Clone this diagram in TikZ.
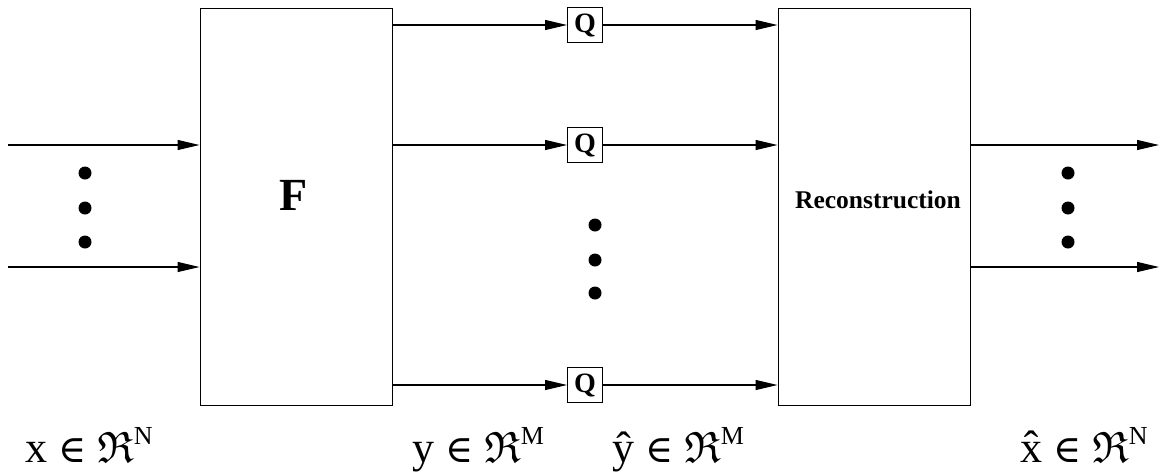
\documentclass[tikz,border=0pt]{standalone}
\usepackage{amssymb}
\usepackage{fontspec}
\setmainfont{Liberation Serif}
\newfontfamily\djv{DejaVu Serif}
\usetikzlibrary{arrows.meta}
\newcommand{\frakR}{\ensuremath{\mathfrak{R}}}
\newcommand{\elt}{{\djv\fontsize{38}{38}\selectfont ∈}}
\newcommand{\supl}[1]{\raisebox{0.40em}{\fontsize{26}{26}\selectfont #1}}
\begin{document}
\begin{tikzpicture}[x=1pt,y=-1pt,
  blk/.style={draw,line width=1pt,inner sep=0pt,minimum width=192pt,minimum height=397pt},
  qbox/.style={draw,line width=1pt,inner sep=0pt,minimum width=35pt,minimum height=35pt,font=\fontsize{28}{28}\selectfont\bfseries},
  sig/.style={line width=1.2pt,-{Triangle[length=22pt,width=10pt]}},
  dotc/.style={circle,fill=black,inner sep=0pt,minimum size=13pt},
  lab/.style={anchor=base west,inner sep=0pt,font=\fontsize{44}{44}\selectfont}]
\useasboundingbox (0,0) rectangle (1159,472);
\node[blk] (F) at (296,206.5) {};
\node[font=\fontsize{46}{46}\selectfont\bfseries] (Fl) at (294,195) {F};
\node[blk] (R) at (874,206.5) {};
\node[font=\fontsize{25.5}{25.5}\selectfont\bfseries] (Rl) at (878,200) {Reconstruction};
% inputs
\coordinate (i1) at (8,145);
\coordinate (i2) at (8,267);
\draw[sig] (i1) -- (i1 -| F.west);
\draw[sig] (i2) -- (i2 -| F.west);
\node[dotc] (d1) at (85,173) {};
\node[dotc] (d2) at (85,208) {};
\node[dotc] (d3) at (85,242) {};
% Q boxes
\node[qbox] (q1) at (585,25) {Q};
\node[qbox] (q2) at (585,145) {Q};
\node[qbox] (q3) at (585,385) {Q};
\foreach \q in {q1,q2,q3}{
  \draw[sig] (\q.west -| F.east) -- (\q.west);
  \draw[sig] (\q.east) -- (\q.east -| R.west);
}
\node[dotc] (m1) at (595,225) {};
\node[dotc] (m2) at (595,260) {};
\node[dotc] (m3) at (595,293) {};
% outputs
\coordinate (o1) at (1159,145);
\coordinate (o2) at (1159,267);
\draw[sig] (o1 -| R.east) -- (o1);
\draw[sig] (o2 -| R.east) -- (o2);
\node[dotc] (e1) at (1068,173) {};
\node[dotc] (e2) at (1068,208) {};
\node[dotc] (e3) at (1068,242) {};
% labels
\node[lab] (lx) at (25,462) {x \elt{} \frakR\supl{N}};
\node[lab] (ly) at (412,462) {y \elt{} \frakR\supl{M}};
\node[lab] (lyh) at (612,462) {\^y \elt{} \frakR\supl{M}};
\node[lab] (lxh) at (1020,462) {\^x \elt{} \frakR\supl{N}};
\end{tikzpicture}
\end{document}
